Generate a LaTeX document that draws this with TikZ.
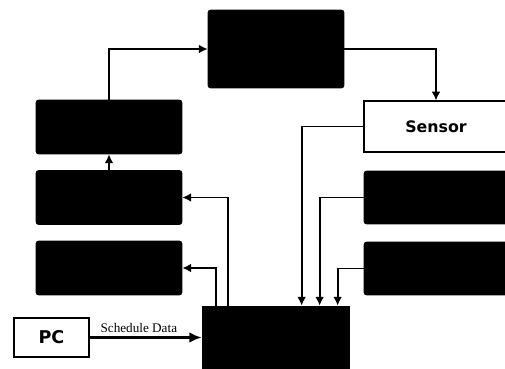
\documentclass[tikz,border=0pt]{standalone}
\usepackage{fontspec}
\setmainfont{Liberation Serif}
\newfontfamily\boxfont{DejaVu Sans}
\usetikzlibrary{arrows.meta,positioning}

\begin{document}
\begin{tikzpicture}[
  x=0.02cm, y=-0.02cm,
  blkbox/.style={rectangle, draw=black, fill=black, rounded corners=1.5pt,
    minimum width=2.92cm, minimum height=1.08cm, inner sep=0pt},
  wbox/.style={rectangle, draw=black, fill=white, line width=0.6pt,
    inner sep=0pt, font=\boxfont\bfseries},
  link/.style={draw, line width=1pt, -{Latex[length=5pt,width=5pt]}}
]
  \useasboundingbox (0,0) rectangle (505,369);
  % blocks
  \node[blkbox, minimum width=2.72cm, minimum height=1.56cm] (topbox) at (276,49) {};
  \node[blkbox] (lbox1) at (109,127) {};
  \node[blkbox] (lbox2) at (109,197.5) {};
  \node[blkbox] (lbox3) at (109,268) {};
  \node[blkbox, minimum width=2.88cm, minimum height=1.06cm] (rbox2) at (436,197.5) {};
  \node[blkbox, minimum width=2.88cm, minimum height=1.06cm] (rbox3) at (436,268.5) {};
  \node[blkbox, minimum width=2.94cm, minimum height=1.26cm, rounded corners=0pt] (mainbox) at (275.5,337.5) {};
  \node[wbox, minimum width=2.88cm, minimum height=1.02cm, font=\boxfont\bfseries\fontsize{9}{10}\selectfont] (sensor) at (436,126.5) {Sensor};
  \node[wbox, minimum width=1.5cm, minimum height=0.78cm, font=\boxfont\bfseries\fontsize{10}{12}\selectfont] (pc) at (51.5,337.5) {PC};
  % connectors
  \path[link] (lbox1.north) |- (topbox.west);
  \path[link] (topbox.east) -| (sensor.north);
  \path[link] (lbox2.north) -- (lbox1.south);
  \path[link] ([xshift=0.52cm]mainbox.north west) |- (lbox2.east);
  \path[link] ([xshift=0.28cm]mainbox.north west) |- (lbox3.east);
  \path[link] (sensor.west) -| ([xshift=2cm]mainbox.north west);
  \path[link] (rbox2.west) -| ([xshift=2.36cm]mainbox.north west);
  \path[link] (rbox3.west) -| ([xshift=2.72cm]mainbox.north west);
  \path[link, line width=1.2pt, -{Latex[length=7pt,width=6pt]}] (pc) -- node[above, pos=0.44, inner sep=2pt, font=\fontsize{7.5}{9}\selectfont] {Schedule Data} (mainbox);
\end{tikzpicture}
\end{document}
